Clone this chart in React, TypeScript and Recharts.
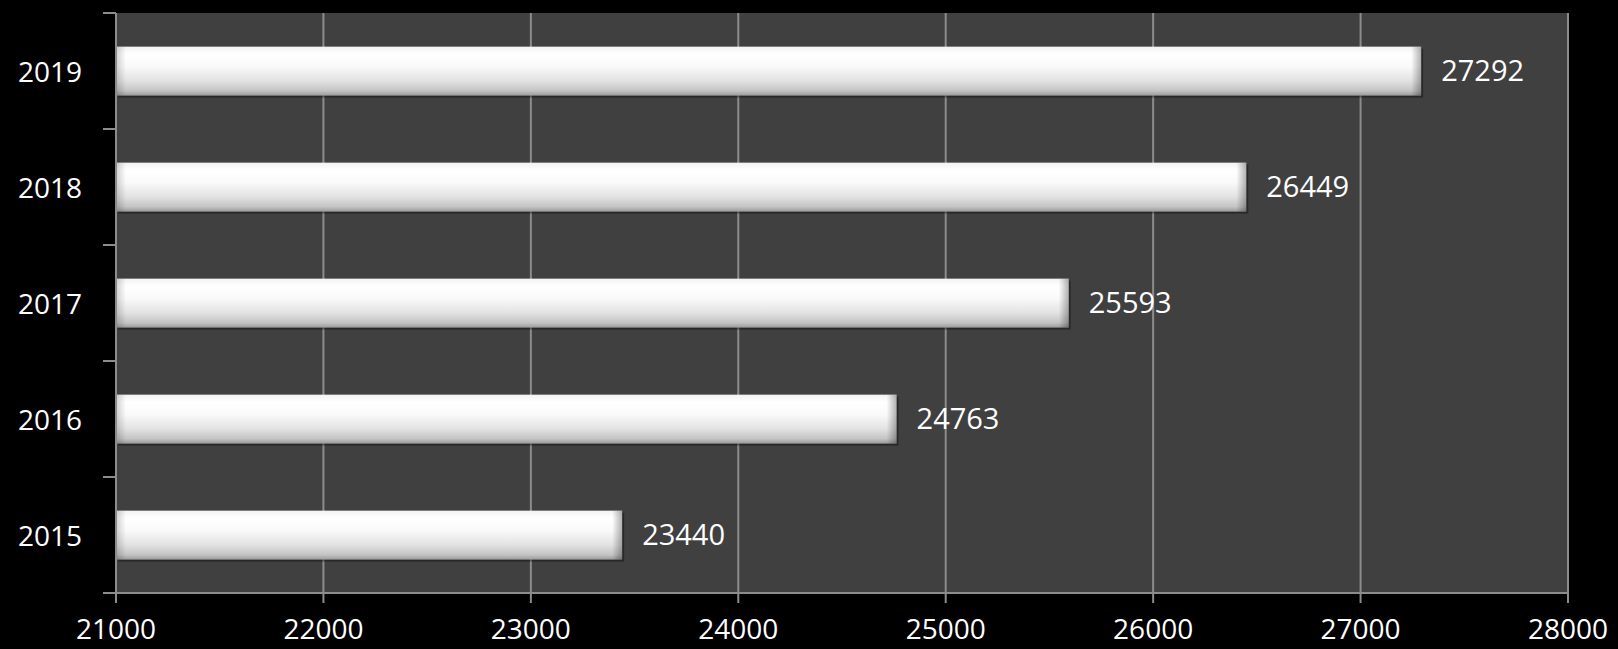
import React from 'react';
import { BarChart, Bar, XAxis, YAxis, CartesianGrid, LabelList } from 'recharts';

const years = ['2015', '2016', '2017', '2018', '2019'];
const values = [23440, 24763, 25593, 26449, 27292];
const xTicks = [21000, 22000, 23000, 24000, 25000, 26000, 27000, 28000];

const data = years.map((y, i) => ({ year: y, value: values[i] }));

const FONT = '"Open Sans", "DejaVu Sans", sans-serif';
const FS = 29;
const Y_TICK_SIZE = 13;
const Y_TICK_MARGIN = 21;

const BarShape = (props: any) => {
  const { x, y, width, height } = props;
  if (width <= 0) return null;
  const bev = Math.min(10, width / 2);
  return (
    <g>
      <rect x={x + 2} y={y + 2} width={width} height={height} fill="rgba(0,0,0,0.35)" />
      <rect x={x} y={y} width={width} height={height} fill="url(#barV)" />
      <rect x={x} y={y} width={bev} height={height} fill="url(#barL)" />
      <rect x={x + width - bev} y={y} width={bev} height={height} fill="url(#barR)" />
    </g>
  );
};

const YTick = (props: any) => {
  const { x, y, payload } = props;
  const off = payload.offset || 0;
  const x1 = x + Y_TICK_MARGIN;
  const x2 = x + Y_TICK_MARGIN + Y_TICK_SIZE;
  return (
    <g>
      <line x1={x1} x2={x2} y1={y - off} y2={y - off} stroke="#8c8c8c" strokeWidth={2} />
      <line x1={x1} x2={x2} y1={y + off} y2={y + off} stroke="#8c8c8c" strokeWidth={2} />
      <text x={x} y={y} textAnchor="end" dominantBaseline="central" fill="#ffffff" fontFamily={FONT} fontSize={FS - 1}>
        {payload.value}
      </text>
    </g>
  );
};

export default function App() {
  return (
    <div style={{ position: 'absolute', left: 0, top: 0, width: 1618, height: 649, background: '#000' }}>
      <BarChart
        width={1618}
        height={649}
        data={data}
        layout="vertical"
        margin={{ top: 13, right: 50, bottom: 0, left: 0 }}
        barCategoryGap="29%"
      >
        <defs>
          <linearGradient id="barV" x1="0" y1="0" x2="0" y2="1">
            <stop offset="0%" stopColor="#f2f2f2" />
            <stop offset="15%" stopColor="#ffffff" />
            <stop offset="40%" stopColor="#fafafa" />
            <stop offset="70%" stopColor="#e2e2e2" />
            <stop offset="90%" stopColor="#c4c4c4" />
            <stop offset="100%" stopColor="#9a9a9a" />
          </linearGradient>
          <linearGradient id="barL" x1="0" y1="0" x2="1" y2="0">
            <stop offset="0%" stopColor="rgba(0,0,0,0.18)" />
            <stop offset="100%" stopColor="rgba(0,0,0,0)" />
          </linearGradient>
          <linearGradient id="barR" x1="0" y1="0" x2="1" y2="0">
            <stop offset="0%" stopColor="rgba(0,0,0,0)" />
            <stop offset="100%" stopColor="rgba(0,0,0,0.3)" />
          </linearGradient>
        </defs>
        <CartesianGrid fill="#404040" stroke="#8c8c8c" strokeWidth={2} horizontal={false} vertical={true} />
        <XAxis
          type="number"
          domain={[21000, 28000]}
          ticks={xTicks}
          interval={0}
          height={56}
          axisLine={{ stroke: '#8c8c8c', strokeWidth: 2 }}
          tickLine={{ stroke: '#8c8c8c', strokeWidth: 2 }}
          tickSize={10}
          tickMargin={16}
          tick={{ fill: '#ffffff', fontFamily: FONT, fontSize: FS - 1 }}
          allowDataOverflow
        />
        <YAxis
          type="category"
          dataKey="year"
          reversed
          width={116}
          axisLine={{ stroke: '#8c8c8c', strokeWidth: 2 }}
          tickLine={false}
          tickSize={Y_TICK_SIZE}
          tickMargin={Y_TICK_MARGIN}
          tick={<YTick />}
        />
        <Bar dataKey="value" shape={<BarShape />} isAnimationActive={false}>
          <LabelList
            dataKey="value"
            position="right"
            offset={20}
            fill="#ffffff"
            fontFamily={FONT}
            fontSize={FS}
          />
        </Bar>
      </BarChart>
    </div>
  );
}
